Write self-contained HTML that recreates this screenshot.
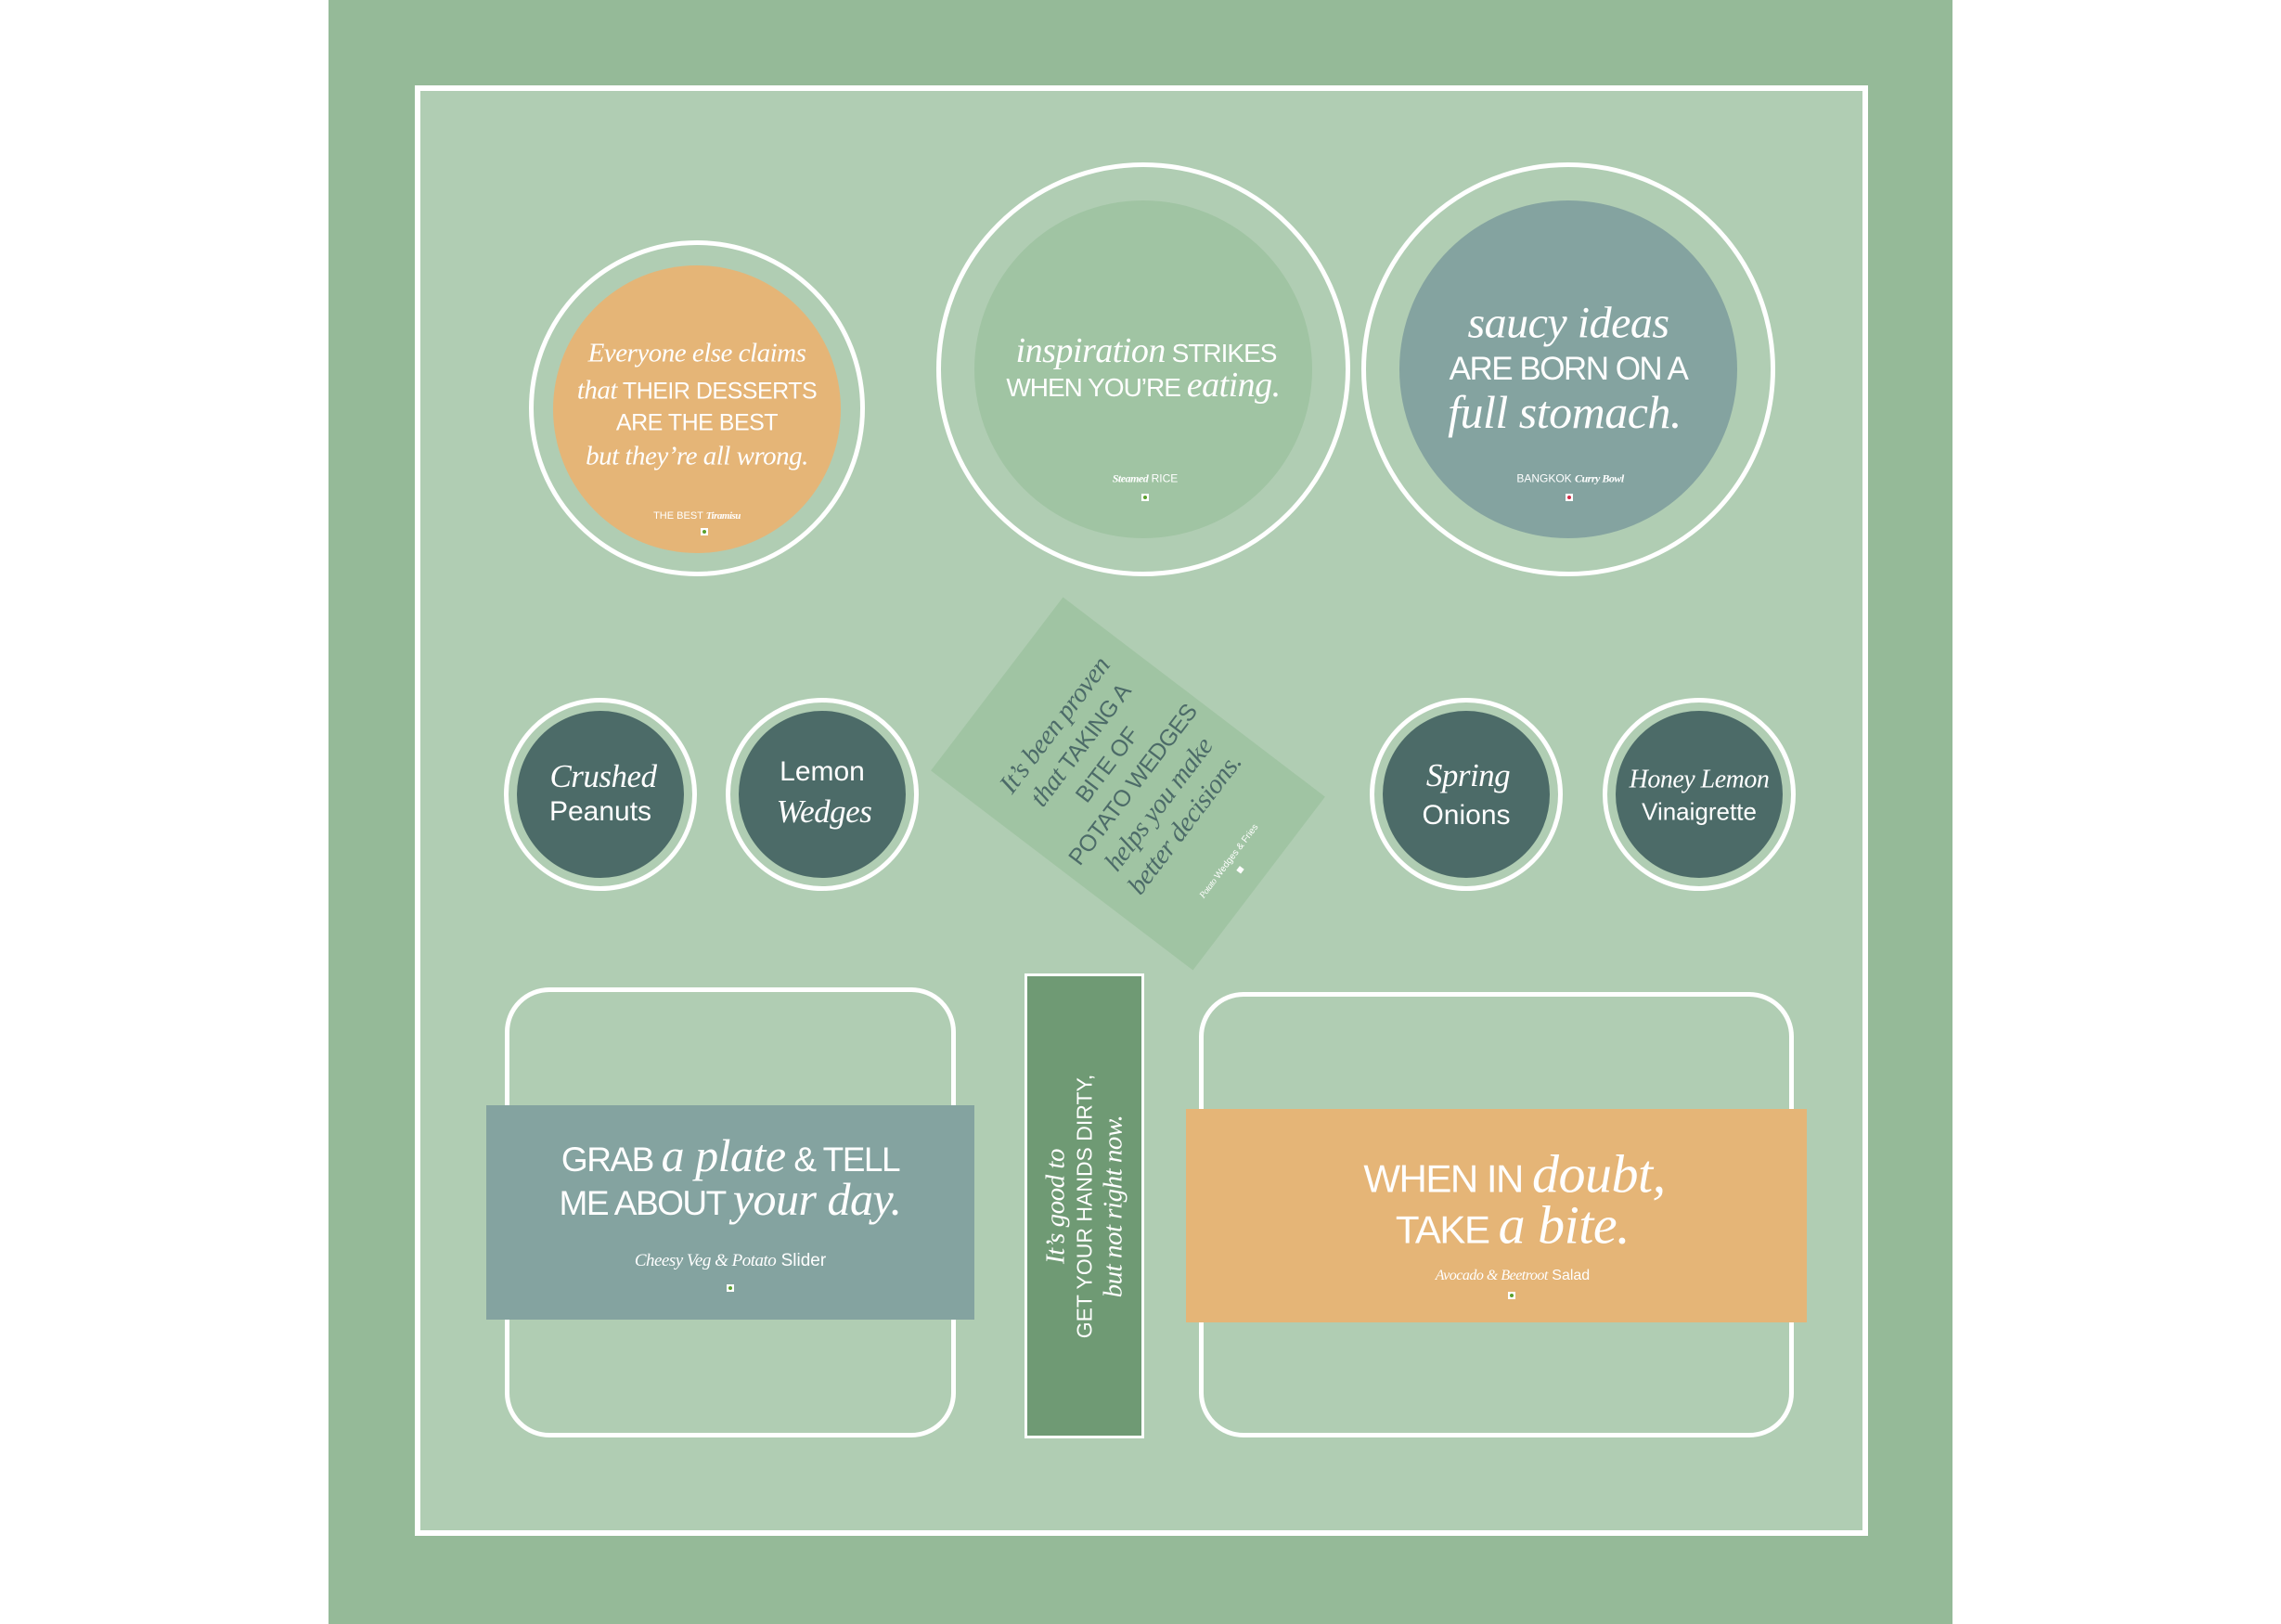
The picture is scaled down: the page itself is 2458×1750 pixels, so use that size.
<!DOCTYPE html>
<html><head><meta charset="utf-8"><style>
*{margin:0;padding:0;box-sizing:border-box}
body{width:2458px;height:1750px;background:#fff;position:relative;overflow:hidden;font-family:"Liberation Sans",sans-serif;color:#fff}
.a{position:absolute}
.c{position:absolute;border-radius:50%}
.t{position:absolute;transform:translate(-50%,-50%);white-space:nowrap;text-align:center}
.s{font-family:"Liberation Serif",serif;font-style:italic;letter-spacing:-0.5px}
.sq{position:absolute;width:8px;height:8px;background:#fff;transform:translate(-50%,-50%)}
.sq i{position:absolute;left:2px;top:2px;width:4px;height:4px;border-radius:50%;background:#5aa02c}
</style></head><body>
<div class="a" style="left:354px;top:0;width:1750px;height:1750px;background:#95ba98"></div>
<div class="a" style="left:447px;top:92px;width:1566px;height:1563px;background:#b0cdb3;border:6px solid #fff"></div>

<!-- circle 1 -->
<div class="c" style="left:570px;top:259px;width:362px;height:362px;border:5px solid #fff"></div>
<div class="c" style="left:596px;top:286px;width:310px;height:310px;background:#e5b577"></div>
<div class="t" style="left:751px;top:381px;font-size:29px" ><span class="s">Everyone else claims</span></div>
<div class="t" style="left:751px;top:421px;font-size:25px;letter-spacing:-0.5px"><span class="s" style="font-size:29px">that</span> THEIR DESSERTS</div>
<div class="t" style="left:751px;top:456px;font-size:25px;letter-spacing:-0.5px">ARE THE BEST</div>
<div class="t" style="left:751px;top:492px;font-size:29px"><span class="s">but they’re all wrong.</span></div>
<div class="t" style="left:751px;top:556px;font-size:11px">THE BEST <span class="s" style="font-weight:bold">Tiramisu</span></div>
<div class="sq" style="left:759px;top:573px"><i></i></div>

<!-- circle 2 -->
<div class="c" style="left:1009px;top:175px;width:446px;height:446px;border:5px solid #fff"></div>
<div class="c" style="left:1050px;top:216px;width:364px;height:364px;background:#a0c4a3"></div>
<div class="t" style="left:1235px;top:378px;font-size:28px;letter-spacing:-1px"><span class="s" style="font-size:38px">inspiration</span> STRIKES</div>
<div class="t" style="left:1232px;top:415px;font-size:28px;letter-spacing:-1px">WHEN YOU’RE <span class="s" style="font-size:38px">eating.</span></div>
<div class="t" style="left:1234px;top:516px;font-size:12px"><span class="s" style="font-weight:bold">Steamed</span> RICE</div>
<div class="sq" style="left:1234px;top:536px"><i></i></div>

<!-- circle 3 -->
<div class="c" style="left:1467px;top:175px;width:446px;height:446px;border:5px solid #fff"></div>
<div class="c" style="left:1508px;top:216px;width:364px;height:364px;background:#84a3a0"></div>
<div class="t" style="left:1690px;top:348px;font-size:48px"><span class="s">saucy ideas</span></div>
<div class="t" style="left:1690px;top:398px;font-size:35px;letter-spacing:-1.5px">ARE BORN ON A</div>
<div class="t" style="left:1686px;top:444px;font-size:50px"><span class="s">full stomach.</span></div>
<div class="t" style="left:1692px;top:516px;font-size:12px">BANGKOK <span class="s" style="font-weight:bold">Curry Bowl</span></div>
<div class="sq" style="left:1691px;top:536px"><i style="background:#d0304a"></i></div>

<!-- small circles -->
<div class="c" style="left:543px;top:752px;width:208px;height:208px;border:5px solid #fff"></div>
<div class="c" style="left:557px;top:766px;width:180px;height:180px;background:#4c6b68"></div>
<div class="t" style="left:650px;top:837px;font-size:35px"><span class="s">Crushed</span></div>
<div class="t" style="left:647px;top:875px;font-size:30px">Peanuts</div>

<div class="c" style="left:782px;top:752px;width:208px;height:208px;border:5px solid #fff"></div>
<div class="c" style="left:796px;top:766px;width:180px;height:180px;background:#4c6b68"></div>
<div class="t" style="left:886px;top:832px;font-size:30px">Lemon</div>
<div class="t" style="left:888px;top:875px;font-size:35px"><span class="s">Wedges</span></div>

<div class="c" style="left:1476px;top:752px;width:208px;height:208px;border:5px solid #fff"></div>
<div class="c" style="left:1490px;top:766px;width:180px;height:180px;background:#4c6b68"></div>
<div class="t" style="left:1582px;top:836px;font-size:35px"><span class="s">Spring</span></div>
<div class="t" style="left:1580px;top:879px;font-size:30px">Onions</div>

<div class="c" style="left:1727px;top:752px;width:208px;height:208px;border:5px solid #fff"></div>
<div class="c" style="left:1741px;top:766px;width:180px;height:180px;background:#4c6b68"></div>
<div class="t" style="left:1831px;top:840px;font-size:28px"><span class="s">Honey Lemon</span></div>
<div class="t" style="left:1831px;top:875px;font-size:26px">Vinaigrette</div>

<!-- diamond -->
<div class="a" style="left:1098px;top:667px;width:235px;height:355px;background:#a0c4a3;transform:rotate(-52.7deg);color:#4c6b68">
  <div class="t" style="left:120px;top:165px;font-size:25px;line-height:35px;letter-spacing:-0.5px">
    <div class="s" style="font-size:29px">It’s been proven</div>
    <div><span class="s" style="font-size:29px">that</span> TAKING A</div>
    <div>BITE OF</div>
    <div>POTATO WEDGES</div>
    <div class="s" style="font-size:29px">helps you make</div>
    <div class="s" style="font-size:29px">better decisions.</div>
  </div>
  <div class="t" style="left:117px;top:315px;font-size:10px;color:#fff"><span class="s">Potato</span> Wedges &amp; Fries</div>
  <div class="sq" style="left:117px;top:330px;width:6px;height:6px"></div>
</div>

<!-- left rounded rect -->
<div class="a" style="left:544px;top:1064px;width:486px;height:485px;border:5px solid #fff;border-radius:48px"></div>
<div class="a" style="left:524px;top:1191px;width:526px;height:231px;background:#84a3a0"></div>
<div class="t" style="left:787px;top:1245px;font-size:37px;letter-spacing:-1.5px">GRAB <span class="s" style="font-size:50px;letter-spacing:-0.5px">a plate</span> &amp; TELL</div>
<div class="t" style="left:787px;top:1292px;font-size:37px;letter-spacing:-1.5px">ME ABOUT <span class="s" style="font-size:50px;letter-spacing:-0.5px">your day.</span></div>
<div class="t" style="left:787px;top:1359px;font-size:19px"><span class="s">Cheesy Veg &amp; Potato</span> Slider</div>
<div class="sq" style="left:787px;top:1388px"><i></i></div>

<!-- strip -->
<div class="a" style="left:1104px;top:1049px;width:129px;height:501px;background:#6f9a74;border:3px solid #fff"></div>
<div class="t" style="left:1169px;top:1300px;transform:translate(-50%,-50%) rotate(-90deg);font-size:23px;line-height:31px">
  <div class="s" style="font-size:29px">It’s good to</div>
  <div>GET YOUR HANDS DIRTY,</div>
  <div class="s" style="font-size:29px">but not right now.</div>
</div>

<!-- right rounded rect -->
<div class="a" style="left:1292px;top:1069px;width:641px;height:480px;border:5px solid #fff;border-radius:48px"></div>
<div class="a" style="left:1278px;top:1195px;width:669px;height:230px;background:#e5b577"></div>
<div class="t" style="left:1632px;top:1265px;font-size:42px;letter-spacing:-1.5px">WHEN IN <span class="s" style="font-size:58px;letter-spacing:-0.5px">doubt,</span></div>
<div class="t" style="left:1630px;top:1320px;font-size:42px;letter-spacing:-1.5px">TAKE <span class="s" style="font-size:58px;letter-spacing:-0.5px">a bite.</span></div>
<div class="t" style="left:1630px;top:1375px;font-size:16px"><span class="s">Avocado &amp; Beetroot</span> Salad</div>
<div class="sq" style="left:1629px;top:1396px"><i></i></div>
</body></html>
